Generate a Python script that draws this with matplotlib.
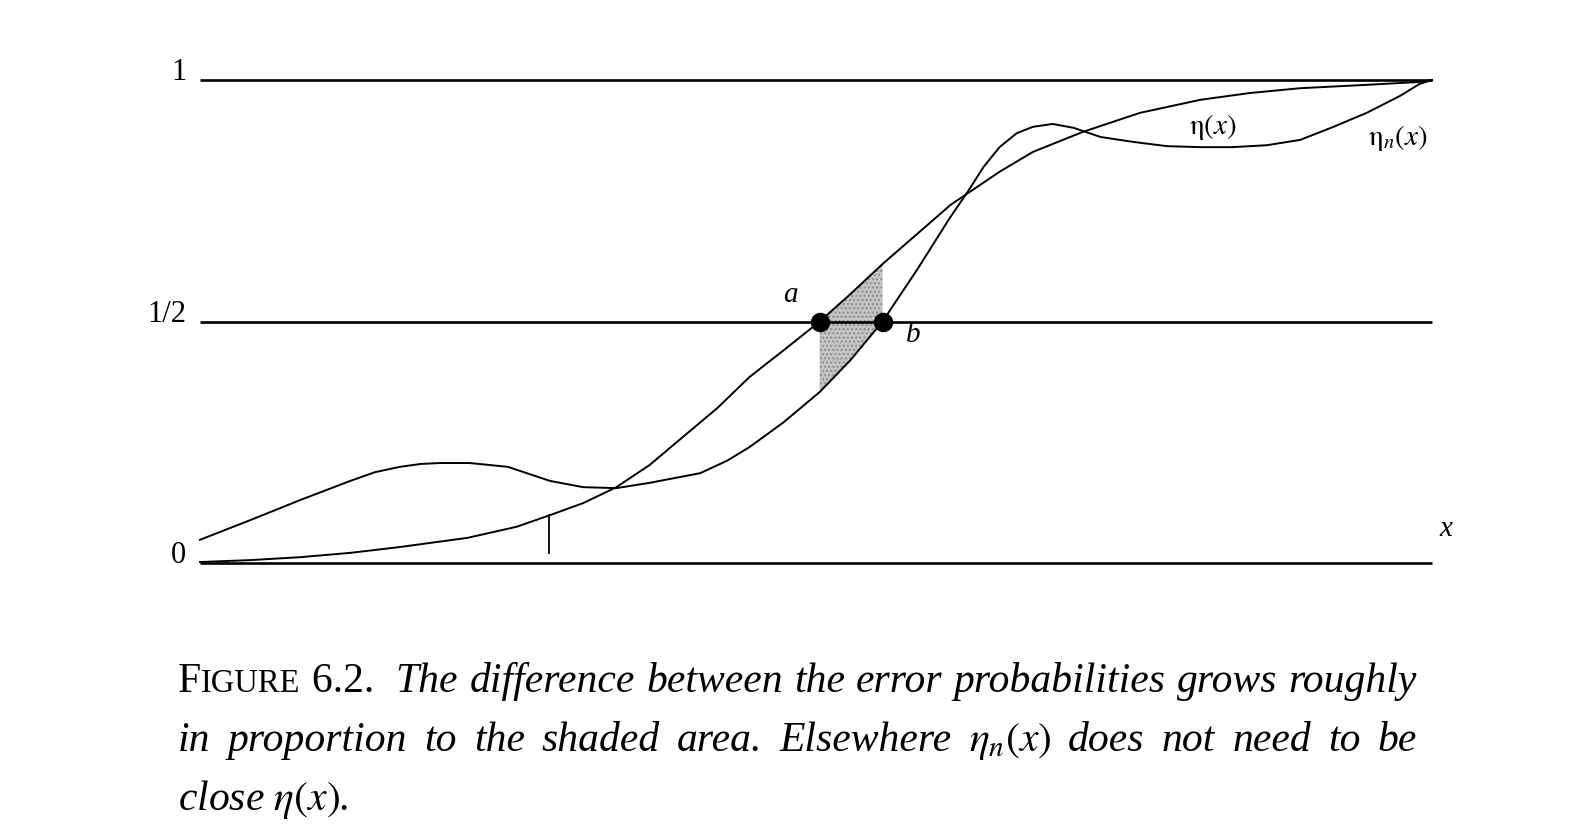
import numpy as np
import matplotlib
matplotlib.use("Agg")
import matplotlib.pyplot as plt

plt.rcParams["font.family"] = ["Liberation Serif", "DejaVu Serif"]
plt.rcParams["mathtext.fontset"] = "stix"

# values, x and y both on a 0..1 scale
eta_x = [0.000, 0.041, 0.081, 0.122, 0.162, 0.217, 0.257, 0.284, 0.311, 0.338,
         0.365, 0.392, 0.420, 0.446, 0.475, 0.503, 0.528, 0.554, 0.582, 0.609,
         0.649, 0.676, 0.716, 0.763, 0.812, 0.852, 0.893, 0.947, 0.990, 1.000]
eta_y = [0.002, 0.006, 0.012, 0.021, 0.033, 0.052, 0.075, 0.099, 0.124, 0.157,
         0.203, 0.261, 0.321, 0.385, 0.443, 0.500, 0.557, 0.619, 0.681, 0.741,
         0.810, 0.851, 0.892, 0.932, 0.959, 0.973, 0.983, 0.990, 0.996, 1.000]

etan_x = [0.000, 0.041, 0.081, 0.122, 0.142, 0.162, 0.179, 0.195, 0.219, 0.250,
          0.284, 0.311, 0.338, 0.365, 0.406, 0.428, 0.446, 0.473, 0.503, 0.528,
          0.554, 0.582, 0.609, 0.623, 0.636, 0.649, 0.663, 0.676, 0.692, 0.709,
          0.731, 0.757, 0.785, 0.812, 0.838, 0.866, 0.893, 0.920, 0.947, 0.974,
          0.990, 1.000]
etan_y = [0.048, 0.089, 0.130, 0.170, 0.188, 0.199, 0.205, 0.207, 0.207, 0.199,
          0.170, 0.157, 0.155, 0.166, 0.186, 0.212, 0.240, 0.290, 0.354, 0.420,
          0.500, 0.607, 0.716, 0.768, 0.820, 0.861, 0.890, 0.903, 0.909, 0.901,
          0.882, 0.872, 0.863, 0.861, 0.861, 0.865, 0.876, 0.903, 0.932, 0.967,
          0.992, 1.000]

levels = [0.0, 0.5, 1.0]
level_labels = ["0", "1/2", "1"]
a_x, b_x = 0.503, 0.554
tick_x, tick_bottom, tick_top = 0.283, 0.021, 0.099

W, H = 1574, 830
fig = plt.figure(figsize=(W / 100, H / 100), dpi=100)
ax = fig.add_axes([200 / W, (H - 563) / H, 1232 / W, 483 / H])
ax.set_xlim(0, 1)
ax.set_ylim(0, 1)
ax.axis("off")

for lv, lab in zip(levels, level_labels):
    ax.plot([0, 1], [lv, lv], color="black", lw=1.9, solid_capstyle="butt", clip_on=False)
    ax.text(-0.011, lv, lab, ha="right", va="baseline", fontsize=22)

# shaded region between the curves from a to b
xs = np.linspace(a_x, b_x, 60)
ax.fill_between(xs, np.interp(xs, etan_x, etan_y), np.interp(xs, eta_x, eta_y),
                facecolor="#c4c4c4", edgecolor="#8c8c8c", hatch="....", lw=0, zorder=1)

for cx, cy in [(eta_x, eta_y), (etan_x, etan_y)]:
    ax.plot(cx, cy, color="black", lw=1.4, clip_on=False, zorder=3,
            solid_joinstyle="round")
ax.plot([tick_x, tick_x], [tick_bottom, tick_top], color="black", lw=1.3)
ax.plot([a_x, b_x], [0.5, 0.5], "o", color="black", ms=13, zorder=4)

ax.text(0.479, 0.555, "a", fontsize=21, style="italic", ha="center", va="center")
ax.text(0.579, 0.472, "b", fontsize=21, style="italic", ha="center", va="center")
ax.text(1.011, 0.070, "x", fontsize=21, style="italic", ha="center", va="center")
ax.text(0.822, 0.903, r"$\mathrm{\eta}(x)$", fontsize=21, ha="center", va="center")
ax.text(0.972, 0.880, r"$\mathrm{\eta}_n(x)$", fontsize=21, ha="center", va="center")

# caption, justified by hand
renderer = fig.canvas.get_renderer()
up = dict(fontsize=30)
it = dict(fontsize=30, style="italic")


def place_line(tokens, y, x0, x1):
    parts_all, widths = [], []
    for tok in tokens:
        parts, w = [], 0
        for s, kw in tok:
            t = fig.text(0, 0, s, ha="left", va="baseline", **kw)
            tw = t.get_window_extent(renderer).width
            parts.append((t, tw))
            w += tw
        parts_all.append(parts)
        widths.append(w)
    gap = (x1 - x0 - sum(widths)) / (len(tokens) - 1)
    x = x0
    for parts, w in zip(parts_all, widths):
        xx = x
        for t, tw in parts:
            t.set_position((xx / W, 1 - y / H))
            xx += tw
        x += w + gap


line1 = [[("F", up), ("IGURE", dict(fontsize=23.5))], [("6.2. ", up)]]
line1 += [[(w, it)] for w in "The difference between the error probabilities grows roughly".split()]
line2 = [[(w, it)] for w in "in proportion to the shaded area. Elsewhere".split()]
line2 += [[(r"$\eta_n(x)$", up)]]
line2 += [[(w, it)] for w in "does not need to be".split()]

place_line(line1, 692, 178, 1417)
place_line(line2, 751, 178, 1417)
fig.text(178 / W, 1 - 810 / H, r"close $\eta(x)$.", ha="left", va="baseline", **it)

fig.savefig("out.png", dpi=100)
